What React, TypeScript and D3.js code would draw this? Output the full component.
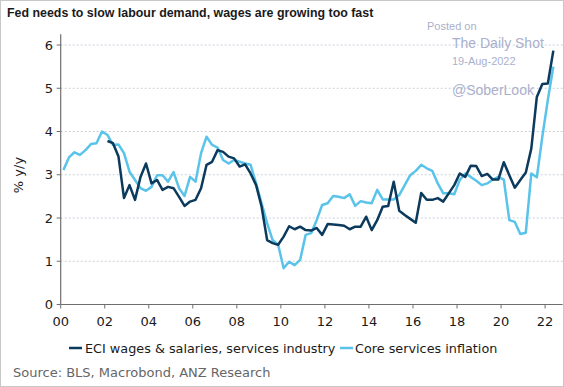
import React from "react";
import * as d3 from "d3";

const startYear = 2000;
const coreServices = [
  3.11, 3.40, 3.52, 3.46, 3.57, 3.71, 3.73, 4.00,
  3.92, 3.69, 3.70, 3.50, 3.07, 2.88, 2.69, 2.63,
  2.72, 2.99, 2.99, 2.84, 3.06, 2.69, 2.51, 2.95,
  2.84, 3.50, 3.88, 3.69, 3.63, 3.34, 3.26, 3.34,
  3.30, 3.26, 3.23, 2.80, 2.34, 1.88, 1.49, 1.38,
  0.84, 0.99, 0.91, 1.03, 1.61, 1.65, 1.95, 2.30,
  2.34, 2.51, 2.49, 2.46, 2.55, 2.28, 2.39, 2.36,
  2.34, 2.65, 2.43, 2.43, 2.43, 2.53, 2.76, 2.99,
  3.09, 3.23, 3.15, 3.09, 2.80, 2.57, 2.57, 2.55,
  2.88, 3.03, 2.95, 2.86, 2.76, 2.80, 2.89, 2.95,
  2.89, 1.95, 1.91, 1.63, 1.66, 3.03, 2.94, 3.88,
  4.73, 5.50,
];
const eciStartYear = 2002;
const eciWages = [
  3.78, 3.73, 3.42, 2.46, 2.76, 2.42, 2.95, 3.26,
  2.80, 2.88, 2.65, 2.72, 2.69, 2.49, 2.28, 2.38,
  2.42, 2.69, 3.23, 3.30, 3.57, 3.53, 3.42, 3.38,
  3.19, 3.24, 3.03, 2.76, 2.26, 1.49, 1.42, 1.38,
  1.57, 1.81, 1.74, 1.80, 1.72, 1.71, 1.77, 1.61,
  1.86, 1.85, 1.84, 1.82, 1.74, 1.80, 1.80, 2.03,
  1.72, 1.95, 2.26, 2.28, 2.84, 2.17, 2.07, 1.98,
  1.89, 2.58, 2.42, 2.42, 2.46, 2.38, 2.57, 2.76,
  3.03, 2.95, 3.21, 3.20, 2.97, 3.02, 2.89, 2.89,
  3.29, 2.99, 2.70, 2.88, 3.05, 3.61, 4.80, 5.10,
  5.11, 5.87,
];
const yTicks = [0, 1, 2, 3, 4, 5, 6];
const xTicks = [2000, 2002, 2004, 2006, 2008, 2010, 2012, 2014, 2016, 2018, 2020, 2022];
const seriesNames = ["ECI wages & salaries, services industry", "Core services inflation"];
const seriesColors = ["#0b3a5c", "#5ac3ea"];

const W = 564;
const H = 387;

export default function App() {
  const x = d3.scaleLinear().domain([2000, 2022.8]).range([60.7, 562.7]);
  const y = d3.scaleLinear().domain([0, 6.25]).range([304.5, 34.2]);
  const toDate = (y0: number) => (i: number) => y0 + i * 0.25 + 0.125;
  const coreDate = toDate(startYear);
  const eciDate = toDate(eciStartYear);
  const line = d3.line<[number, number]>().x((d) => x(d[0])).y((d) => y(d[1]));
  const corePts: [number, number][] = coreServices.map((v, i) => [coreDate(i), v]);
  const eciPts: [number, number][] = eciWages.map((v, i) => [eciDate(i), v]);
  const axisColor = "#6e6e6e";
  const tickFont = "DejaVu Sans, Verdana, sans-serif";
  const wm = "#aab0cc";

  return (
    <svg width={W} height={H} style={{ position: "absolute", left: 0, top: 0, background: "#fff" }}>
      <rect x={0.5} y={0.5} width={W - 1} height={H - 1} fill="#fff" stroke="#c8c8c8" />
      <text x={7} y={17} fontFamily="Liberation Sans, Arial, sans-serif" fontWeight="bold" fontSize={12.4} fill="#1a1a1a">
        Fed needs to slow labour demand, wages are growing too fast
      </text>
      {yTicks.filter((t) => t > 0).map((t) => (
        <line key={t} x1={x.range()[0]} x2={x.range()[1]} y1={y(t)} y2={y(t)} stroke="#c9d0d8" strokeWidth={1} strokeDasharray="2,2" />
      ))}
      {/* watermark */}
      <g fontFamily="Liberation Sans, Arial, sans-serif" fill={wm}>
        <text x={427} y={30} fontSize={11}>Posted on</text>
        <text x={452} y={48} fontSize={14}>The Daily Shot</text>
        <text x={452} y={65} fontSize={11}>19-Aug-2022</text>
        <text x={452} y={95} fontSize={14}>@SoberLook</text>
      </g>
      <path d={line(corePts) || ""} fill="none" stroke={seriesColors[1]} strokeWidth={2.5} strokeLinejoin="round" />
      <path d={line(eciPts) || ""} fill="none" stroke={seriesColors[0]} strokeWidth={2.5} strokeLinejoin="round" />
      {/* axes */}
      <line x1={x.range()[0]} x2={x.range()[0]} y1={y.range()[1]} y2={y(0)} stroke={axisColor} strokeWidth={1.2} />
      <line x1={x.range()[0]} x2={x.range()[1]} y1={y(0)} y2={y(0)} stroke={axisColor} strokeWidth={1.2} />
      {yTicks.map((t) => (
        <g key={t}>
          <line x1={x.range()[0] - 4} x2={x.range()[0]} y1={y(t)} y2={y(t)} stroke={axisColor} />
          <text x={53} y={y(t)} dy="0.36em" textAnchor="end" fontFamily={tickFont} fontSize={13} fill="#1a1a1a">{t}</text>
        </g>
      ))}
      {xTicks.map((t) => (
        <g key={t}>
          <line x1={x(t)} x2={x(t)} y1={y(0)} y2={y(0) + 4} stroke={axisColor} />
          <text x={x(t)} y={326} textAnchor="middle" fontFamily={tickFont} fontSize={13} fill="#1a1a1a">{String(t).slice(2)}</text>
        </g>
      ))}
      <text transform={`translate(23,175) rotate(-90)`} textAnchor="middle" fontFamily={tickFont} fontSize={13} fill="#1a1a1a">% y/y</text>
      {/* legend */}
      <g fontFamily={tickFont} fontSize={12.8} fill="#1a1a1a">
        <line x1={69} x2={82} y1={348} y2={348} stroke={seriesColors[0]} strokeWidth={2.5} />
        <text x={85} y={352.5}>{seriesNames[0]}</text>
        <line x1={340} x2={353} y1={348} y2={348} stroke={seriesColors[1]} strokeWidth={2.5} />
        <text x={355} y={352.5}>{seriesNames[1]}</text>
      </g>
      <text x={13} y={377} fontFamily={tickFont} fontSize={13} fill="#666">Source: BLS, Macrobond, ANZ Research</text>
    </svg>
  );
}
